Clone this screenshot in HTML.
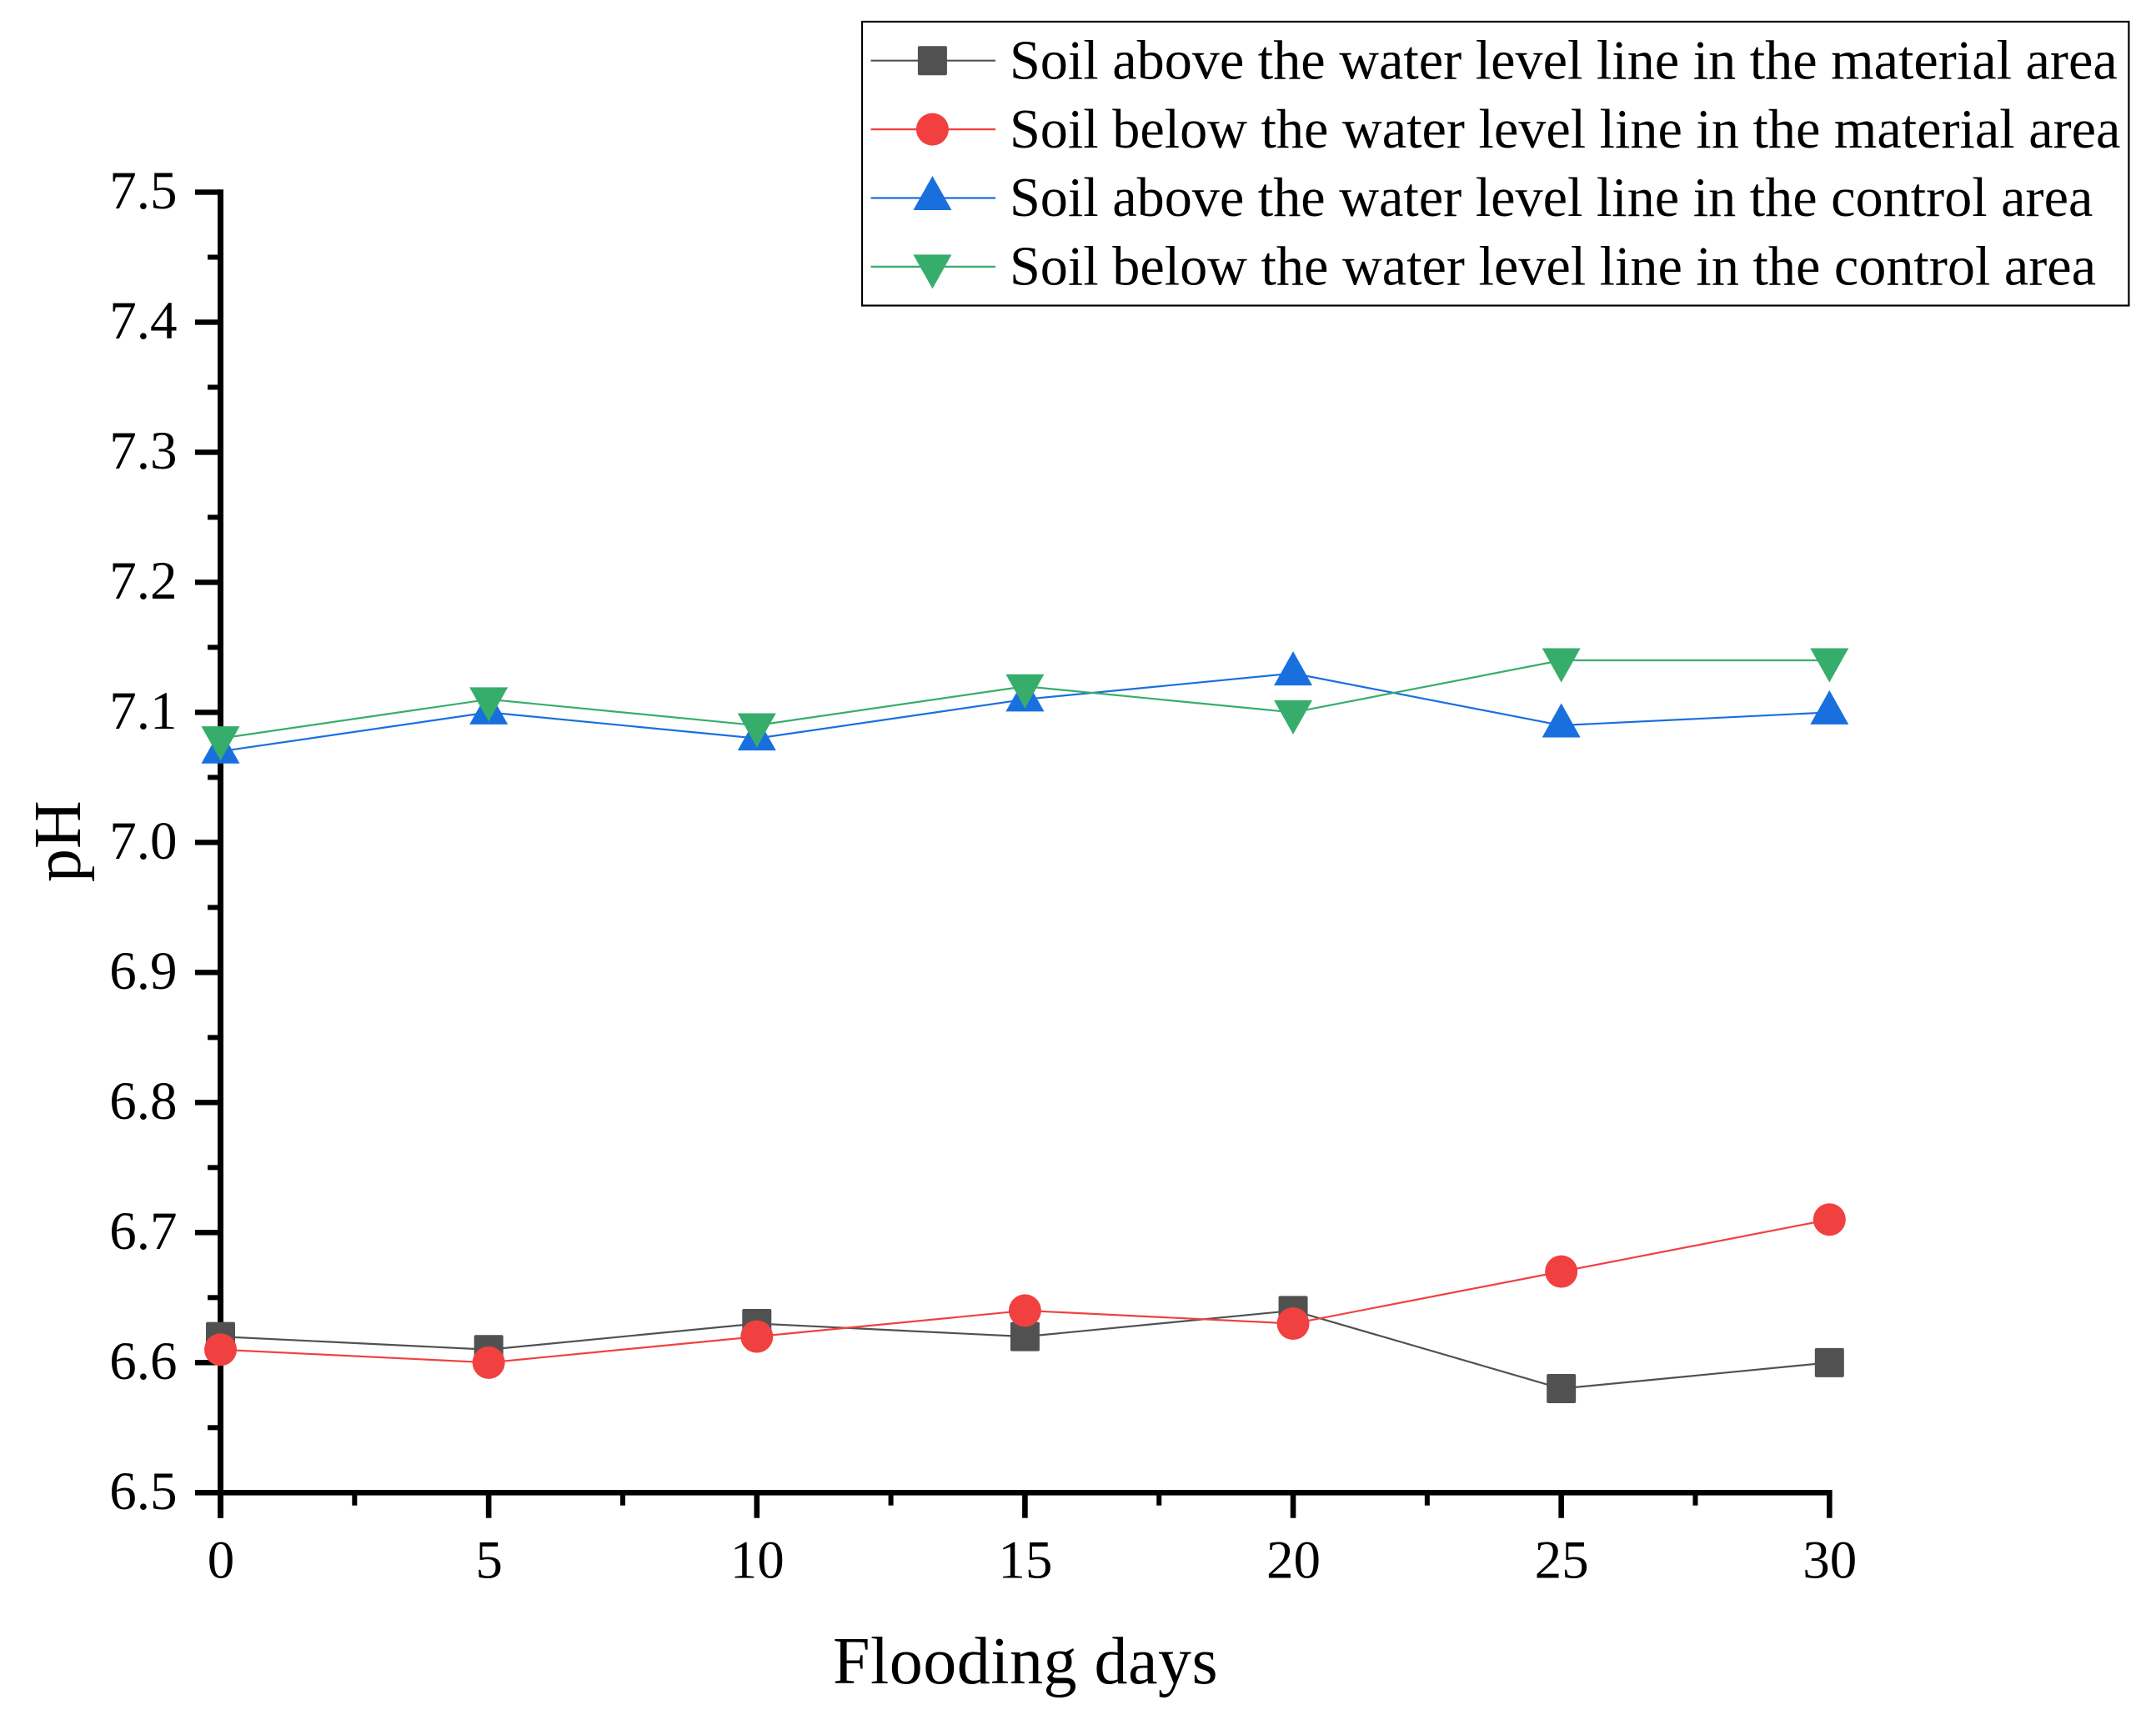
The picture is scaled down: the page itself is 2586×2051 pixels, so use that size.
<!DOCTYPE html>
<html lang="en">
<head>
<meta charset="utf-8">
<title>Soil pH over flooding days</title>
<style>
  html, body { margin: 0; padding: 0; background: #ffffff; }
  #chart { display: block; width: 2586px; height: 2051px; }
  text { font-family: "Liberation Serif", "Times New Roman", serif; fill: #000000; font-kerning: none; }
</style>
</head>
<body>
<svg id="chart" xmlns="http://www.w3.org/2000/svg" width="2586" height="2051" viewBox="0 0 2586 2051"></svg>
<script>
const days = [0, 5, 10, 15, 20, 25, 30];
const soilAboveMaterial = [6.62, 6.61, 6.63, 6.62, 6.64, 6.58, 6.60];
const soilBelowMaterial = [6.61, 6.60, 6.62, 6.64, 6.63, 6.67, 6.71];
const soilAboveControl = [7.07, 7.10, 7.08, 7.11, 7.13, 7.09, 7.10];
const soilBelowControl = [7.08, 7.11, 7.09, 7.12, 7.10, 7.14, 7.14];
const xTickLabels = ["0", "5", "10", "15", "20", "25", "30"];
const xMinorTicks = [2.5, 7.5, 12.5, 17.5, 22.5, 27.5];
const yTickLabels = ["6.5", "6.6", "6.7", "6.8", "6.9", "7.0", "7.1", "7.2", "7.3", "7.4", "7.5"];
const yMinorTicks = [6.55, 6.65, 6.75, 6.85, 6.95, 7.05, 7.15, 7.25, 7.35, 7.45];
const seriesNames = [
  "Soil above the water level line in the material area",
  "Soil below the water level line in the material area",
  "Soil above the water level line in the control area",
  "Soil below the water level line in the control area"
];
const seriesValues = [soilAboveMaterial, soilBelowMaterial, soilAboveControl, soilBelowControl];
const seriesColors = ["#515151", "#F14040", "#1A6FDF", "#37AD6B"];
const seriesMarkers = ["square", "circle", "up", "down"];
const seriesKeys = ["above-material", "below-material", "above-control", "below-control"];

const svg = document.getElementById('chart');
const NS = 'http://www.w3.org/2000/svg';

function xScale(v) { return 264.5 + (v - 0) * (2194.3 - 264.5) / 30; }
function yScale(v) { return 1790.3 - (v - 6.5) * (1790.3 - 230.5) / 1.0; }

function make(tag, attrs, parent) {
  const el = document.createElementNS(NS, tag);
  for (const k in attrs) el.setAttribute(k, attrs[k]);
  (parent || svg).appendChild(el);
  return el;
}

function drawMarker(kind, cx, cy, color, parent) {
  if (kind === 'square') {
    return make('rect', { x: cx - 17.5, y: cy - 17.5, width: 35, height: 35, rx: 2, fill: color }, parent);
  }
  if (kind === 'circle') {
    return make('circle', { cx: cx, cy: cy, r: 19.5, fill: color }, parent);
  }
  if (kind === 'up') {
    return make('polygon', { points: (cx) + ',' + (cy - 26.5) + ' ' + (cx + 23) + ',' + (cy + 14.5) + ' ' + (cx - 23) + ',' + (cy + 14.5), fill: color }, parent);
  }
  return make('polygon', { points: (cx) + ',' + (cy + 26.5) + ' ' + (cx + 23) + ',' + (cy - 14.5) + ' ' + (cx - 23) + ',' + (cy - 14.5), fill: color }, parent);
}

/* Axes */
const axisGroup = make('g', {});



const yAxis = make('rect', { x: 261, y: 227.3, width: 7, height: 1593.4, fill: '#000' }, axisGroup);



const xAxis = make('rect', { x: 234, y: 1787, width: 1963.6, height: 6.6, fill: '#000' }, axisGroup);



xTickLabels.forEach(function (label) {
  const v = Number(label);
  const px = xScale(v);
  const tick = make('rect', { x: px - 3.3, y: 1790, width: 6.6, height: 30.7, fill: '#000' }, axisGroup);
  
  
  const t = make('text', { x: px + 0.5, y: 1892.7, 'font-size': 65, 'text-anchor': 'middle' }, axisGroup);
  t.textContent = label;
  
  
});

xMinorTicks.forEach(function (v) {
  const px = xScale(v);
  const tick = make('rect', { x: px - 3, y: 1790, width: 6, height: 15.7, fill: '#000' }, axisGroup);
  
  
});

yTickLabels.forEach(function (label) {
  const py = yScale(Number(label));
  const tick = make('rect', { x: 234, y: py - 3.2, width: 30, height: 6.4, fill: '#000' }, axisGroup);
  
  
  const t = make('text', { x: 212.5, y: py + 19.7, 'font-size': 65, 'text-anchor': 'end' }, axisGroup);
  t.textContent = label;
  
  
});

yMinorTicks.forEach(function (v) {
  const py = yScale(v);
  const tick = make('rect', { x: 249, y: py - 3, width: 15, height: 6, fill: '#000' }, axisGroup);
  
  
});

const xTitle = make('text', { x: 999, y: 2019, 'font-size': 80, 'letter-spacing': 0.5 });
xTitle.textContent = 'Flooding days';



const yTitle = make('text', { transform: 'translate(96 1058) rotate(-90)', 'font-size': 80 });
yTitle.textContent = 'pH';



/* Series */
seriesValues.forEach(function (values, i) {
  const g = make('g', {});
  
  
  const pts = values.map(function (v, j) { return xScale(days[j]) + ',' + yScale(v); }).join(' ');
  const line = make('polyline', { points: pts, fill: 'none', stroke: seriesColors[i], 'stroke-width': 2.2 }, g);
  
  
  values.forEach(function (v, j) {
    const m = drawMarker(seriesMarkers[i], xScale(days[j]), yScale(v), seriesColors[i], g);
    
    
  });
});

/* Legend */
const legend = make('g', {});



const legendBox = make('rect', { x: 1034, y: 26, width: 1519.4, height: 340.5, fill: '#ffffff', stroke: '#000000', 'stroke-width': 2.2 }, legend);



seriesNames.forEach(function (name, i) {
  const rowY = 72.7 + i * 82.4;
  const row = make('g', {}, legend);
  
  
  const sample = make('line', { x1: 1044.5, x2: 1194, y1: rowY, y2: rowY, stroke: seriesColors[i], 'stroke-width': 2.2 }, row);
  
  
  const mark = drawMarker(seriesMarkers[i], 1118.4, rowY, seriesColors[i], row);
  
  
  const label = make('text', { x: 1211, y: rowY + 21.7, 'font-size': 66.2 }, row);
  label.textContent = name;
  
  
});
</script>
</body>
</html>
